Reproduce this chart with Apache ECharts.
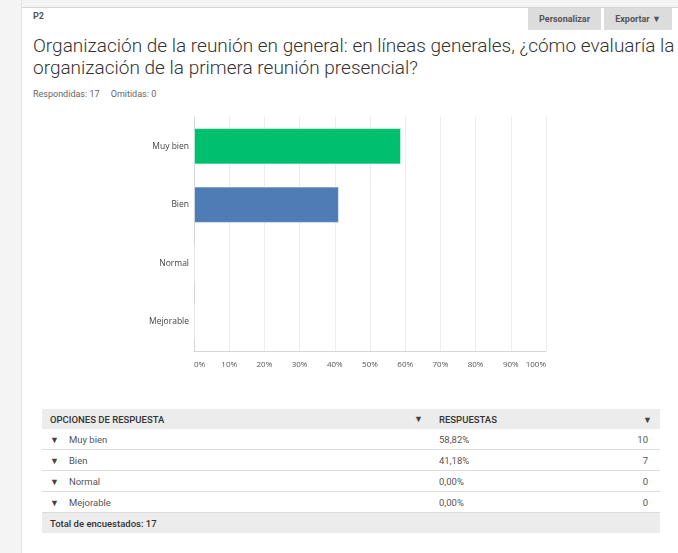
<!DOCTYPE html>
<html>
<head>
<meta charset="utf-8">
<script src="https://cdn.jsdelivr.net/npm/echarts@6/dist/echarts.min.js"></script>
<style>
  body { margin: 0; width: 678px; height: 553px; background: #fff; position: relative; overflow: hidden; font-family: "Roboto", sans-serif; }
  .side { position: absolute; left: 0; top: 0; width: 21px; height: 553px; background: #f4f4f4; border-right: 1px solid #e3e3e3; }
  .topbar { position: absolute; left: 22px; top: 0; width: 656px; height: 7px; background: #f4f4f4; border-bottom: 1px solid #d6d6d6; }
  .qnum { position: absolute; left: 33px; top: 11px; font-size: 9px; font-weight: bold; color: #555; }
  .btn { position: absolute; top: 8px; height: 22px; line-height: 22px; background: #dcdcdc; color: #555; font-size: 9px; font-weight: bold; text-align: center; }
  .title { position: absolute; left: 33px; top: 35px; font-size: 19px; font-weight: 300; color: #333; line-height: 22px; white-space: nowrap; }
  .stats { position: absolute; left: 33px; top: 89px; font-size: 9px; color: #666; }
  #main { position: absolute; left: 0; top: 100px; width: 678px; height: 290px; }
  table { position: absolute; left: 42px; top: 409px; width: 618px; border-collapse: collapse; font-size: 9.5px; color: #555; }
  td { height: 20px; padding: 0 8px; border-bottom: 1px solid #dcdcdc; }
  tr.head td { background: #ececec; font-weight: 500; color: #333; border-bottom: none; height: 20px; }
  tr.total td { background: #ececec; font-weight: 500; color: #333; border-bottom: none; height: 20px; }
  .arr { font-size: 9px; color: #444; margin-right: 10px; }
</style>
</head>
<body>
<div class="side"></div>
<div class="topbar"></div>
<div class="qnum">P2</div>
<div class="btn" style="left:528px;width:73px;">Personalizar</div>
<div class="btn" style="left:604px;width:68px;">Exportar &#9660;</div>
<div class="title">Organización de la reunión en general: en líneas generales, ¿cómo evaluaría la<br>organización de la primera reunión presencial?</div>
<div class="stats">Respondidas: 17 &nbsp;&nbsp;&nbsp; Omitidas: 0</div>
<div id="main"></div>
<table id="tbl"></table>
<script>
var categories = ['Muy bien', 'Bien', 'Normal', 'Mejorable']
var percents = [58.82, 41.18, 0, 0]
var counts = [10, 7, 0, 0]
var barColors = ['#00bf6f', '#507cb6', '#f9be00', '#6bc8cd']
var totalRespondents = 17

var chartDom = document.getElementById('main')
var myChart = echarts.init(chartDom)
var option = {
  animation: false,
  grid: { left: 194, top: 17, width: 352, height: 234 },
  xAxis: {
    type: 'value',
    min: 0,
    max: 100,
    interval: 10,
    axisLine: { show: true, lineStyle: { color: '#d6d6d6' } },
    axisTick: { show: false },
    splitLine: { lineStyle: { color: '#ededed' } },
    axisLabel: {
      formatter: '{value}%',
      fontSize: 8,
      color: '#555',
      fontFamily: 'Open Sans',
      margin: 10,
      alignMinLabel: 'left',
      alignMaxLabel: 'right'
    }
  },
  yAxis: {
    type: 'category',
    inverse: true,
    data: categories,
    axisLine: { show: true, lineStyle: { color: '#d6d6d6' } },
    axisTick: { show: false },
    axisLabel: { fontSize: 8.5, color: '#444', fontFamily: 'Open Sans', margin: 5 }
  },
  series: [
    {
      type: 'bar',
      barCategoryGap: '38%',
      data: percents.map(function (v, i) {
        return { value: v, itemStyle: { color: barColors[i], borderColor: 'rgba(255,255,255,0.5)', borderWidth: 1 } }
      })
    }
  ]
}
option && myChart.setOption(option)

var tbl = document.getElementById('tbl')
var html = '<tr class="head"><td style="width:373px">OPCIONES DE RESPUESTA<span class="arr" style="float:right;margin-right:0">&#9660;</span></td>' +
  '<td>RESPUESTAS</td><td style="text-align:right"><span class="arr" style="margin-right:0">&#9660;</span></td></tr>'
for (var i = 0; i < categories.length; i++) {
  html += '<tr><td><span class="arr">&#9660;</span>' + categories[i] + '</td>' +
    '<td>' + percents[i].toFixed(2).replace('.', ',') + '%</td>' +
    '<td style="text-align:right;padding-right:12px">' + counts[i] + '</td></tr>'
}
html += '<tr class="total"><td colspan="3">Total de encuestados: ' + totalRespondents + '</td></tr>'
tbl.innerHTML = html
</script>
</body>
</html>
